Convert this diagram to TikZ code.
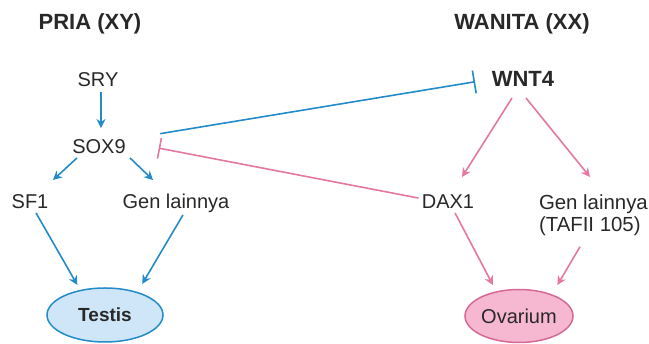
\documentclass[tikz,border=0pt]{standalone}
\usepackage{fontspec}
\setmainfont{Liberation Sans}
\usetikzlibrary{arrows.meta,shapes.geometric}
\definecolor{birugen}{RGB}{35,140,200}
\definecolor{pinkgen}{RGB}{228,120,160}
\definecolor{isitestis}{RGB}{206,230,247}
\definecolor{isiovarium}{RGB}{246,184,208}
\definecolor{tepiovarium}{RGB}{214,104,150}
\definecolor{teks}{RGB}{40,40,40}
\tikzset{
	gen/.style={inner sep=0pt, outer sep=0pt, text height=14.3pt, text depth=0pt, text=teks, font=\fontsize{20}{23}\selectfont},
	judul/.style={inner sep=0pt, text=teks, font=\fontsize{22}{26}\selectfont\bfseries},
	organ/.style={ellipse, inner sep=0pt, outer sep=0pt, line width=1.5pt, text=teks},
	aktif/.style={draw=birugen, line width=1.6pt, -{Stealth[length=9pt,width=9pt]}},
	pasif/.style={draw=pinkgen, line width=1.6pt, -{Stealth[length=9pt,width=9pt]}},
	hambatbiru/.style={draw=birugen, line width=1.6pt, -{Bar[width=23pt]}},
	hambatpink/.style={draw=pinkgen, line width=1.6pt, -{Bar[width=21pt]}}
}
\begin{document}
\begin{tikzpicture}[x=1pt, y=-1pt]
		%%%%% START %%%%%
		\useasboundingbox (0, 0) rectangle (649, 344);
		
		\node[judul] (pria) at (90, 24) {PRIA (XY)};
		\node[judul] (wanita) at (522, 24) {WANITA (XX)};
		
		\node[gen] (sry) at (98, 79) {SRY};
		\node[gen] (sox9) at (99, 146) {SOX9};
		\node[gen] (sf1) at (30, 201) {SF1};
		\node[gen] (genL) at (176, 201) {Gen lainnya};
		
		\node[gen, text height=15.8pt, font=\fontsize{22}{26}\selectfont\bfseries] (wnt4) at (523, 79) {WNT4};
		\node[gen] (dax1) at (448, 201) {DAX1};
		\node[inner sep=0pt, outer sep=0pt, text=teks, font=\fontsize{20.4}{22}\selectfont, align=left, anchor=north west] (genR) at (539, 195) {Gen lainnya\\(TAFII 105)};
		
		\node[organ, draw=birugen, fill=isitestis, minimum width=116pt, minimum height=54pt, font=\fontsize{19}{22}\selectfont\bfseries] (testis) at (105, 315) {Testis};
		\node[organ, draw=tepiovarium, fill=isiovarium, minimum width=108pt, minimum height=53pt, font=\fontsize{20}{23}\selectfont] (ovarium) at (519, 316) {Ovarium};
		
		% jalur pria
		\draw[aktif, shorten <=5.8pt, shorten >=10.8pt] ([xshift=3pt]sry.south) -- ([xshift=2pt]sox9.north);
		\draw[aktif, shorten <=7.1pt, shorten >=20.4pt] ([xshift=-16.8pt]sox9.south) -- ([xshift=8pt]sf1.north);
		\draw[aktif, shorten <=6.9pt, shorten >=19.9pt] ([xshift=26pt]sox9.south) -- ([xshift=-8.6pt]genL.north);
		\draw[aktif, shorten <=5.5pt, shorten >=6.4pt] ([xshift=3.3pt]sf1.south) -- (testis.135.5);
		\draw[aktif, shorten <=7.9pt, shorten >=10pt] ([xshift=11pt]genL.south) -- (testis.35);
		
		% jalur wanita
		\draw[pasif, shorten <=13.1pt, shorten >=19.9pt] ([xshift=-4pt]wnt4.south) -- ([xshift=3.4pt]dax1.north);
		\draw[pasif, shorten <=14.3pt, shorten >=23.2pt] ([xshift=-6pt]wnt4.south) -- ([xshift=65.6pt]genR.north west);
		\draw[pasif, shorten <=5.4pt, shorten >=7.7pt] ([xshift=4.5pt]dax1.south) -- (ovarium.133);
		\draw[pasif, shorten <=12.4pt, shorten >=11.4pt] ([xshift=47.4pt]genR.south west) -- (ovarium.33);
		
		% hambatan
		\draw[hambatbiru, shorten <=35pt, shorten >=17pt] (sox9.14) -- (wnt4.west);
		\draw[hambatpink, shorten <=3.5pt, shorten >=33.6pt] (dax1.175) -- (sox9.9);
		
		%%%%% END %%%%%
\end{tikzpicture}
\end{document}
